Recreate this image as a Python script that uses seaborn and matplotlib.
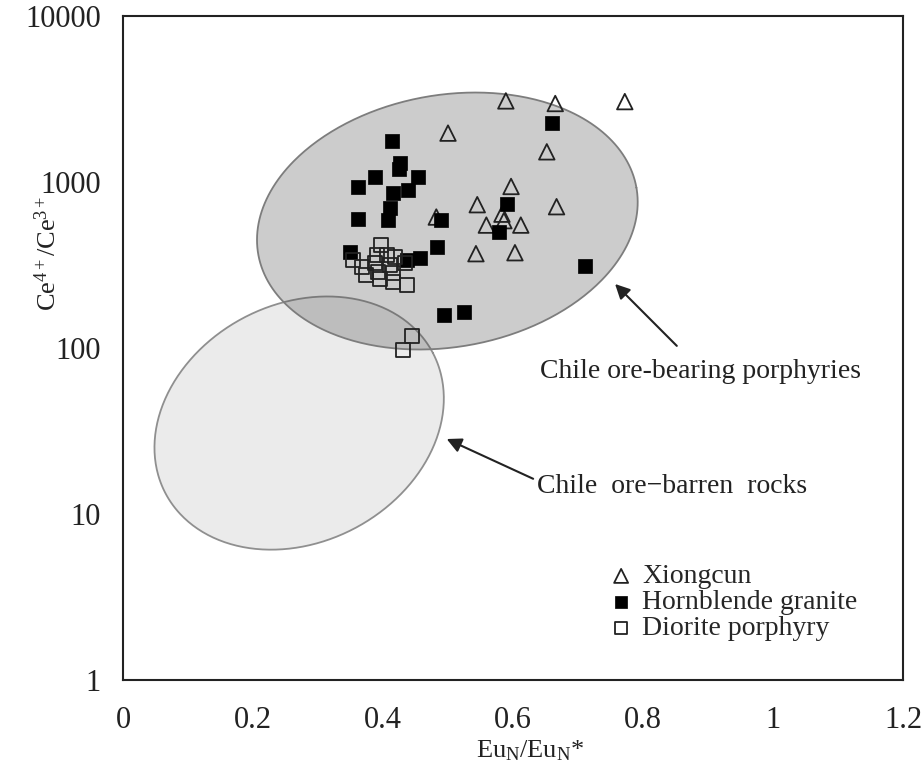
import numpy as np
import pandas as pd
import matplotlib
matplotlib.use("Agg")
import matplotlib.pyplot as plt
import matplotlib.ticker as mticker
import seaborn as sns

# ---------------- data ----------------
xiong_eu = [0.589, 0.665, 0.772, 0.500, 0.652, 0.597, 0.545, 0.667, 0.482, 0.583,
            0.586, 0.559, 0.612, 0.543, 0.603]
xiong_ce = [3080, 2970, 3050, 1970, 1520, 940, 730, 710, 615, 640,
            585, 550, 550, 370, 375]

horn_eu = [0.660, 0.414, 0.426, 0.424, 0.388, 0.454, 0.362, 0.416, 0.439, 0.411,
           0.408, 0.361, 0.490, 0.591, 0.579, 0.483, 0.457, 0.350, 0.437, 0.711,
           0.494, 0.524]
horn_ce = [2277, 1766, 1307, 1193, 1067, 1077, 929, 855, 895, 694,
           590, 596, 590, 737, 498, 408, 347, 380, 339, 312,
           158, 164]

dior_eu = [0.354, 0.368, 0.391, 0.406, 0.419, 0.388, 0.392, 0.411, 0.415, 0.395,
           0.415, 0.437, 0.434, 0.397, 0.445, 0.431, 0.374]
dior_ce = [339, 308, 363, 363, 353, 325, 287, 316, 283, 260,
           250, 240, 325, 417, 118, 97, 275]

series_labels = ["Xiongcun", "Hornblende granite", "Diorite porphyry"]

# field ellipses: centre (Eu, Ce), semi-axes (px), tilt (deg)
field_names = ["Chile ore-bearing porphyries", "Chile  ore\u2212barren  rocks"]
field_center_eu = [0.499, 0.271]
field_center_ce = [582, 35.3]
field_semi_a = [192, 151]
field_semi_b = [126, 119]
field_angle = [10.0, 27.7]

x_ticks = [0, 0.2, 0.4, 0.6, 0.8, 1, 1.2]
x_ticklabels = ["0", "0.2", "0.4", "0.6", "0.8", "1", "1.2"]
y_ticks = [1, 10, 100, 1000, 10000]
y_ticklabels = ["1", "10", "100", "1000", "10000"]

# ---------------- style ----------------
sns.set_theme(style="white")
plt.rcParams["font.family"] = ["Liberation Serif", "DejaVu Serif"]
plt.rcParams["mathtext.fontset"] = "custom"
plt.rcParams["mathtext.rm"] = "Liberation Serif"
plt.rcParams["mathtext.it"] = "Liberation Serif:italic"

W, H = 924, 769
fig = plt.figure(figsize=(W / 100, H / 100), dpi=100)
L, R, T, B = 123, 903, 16, 680
ax = fig.add_axes([L / W, 1 - B / H, (R - L) / W, (B - T) / H])

XMIN, XMAX, YMIN, YMAX = 0, 1.2, 1, 10000
ax.set_xlim(XMIN, XMAX)
ax.set_yscale("log")
ax.set_ylim(YMIN, YMAX)

# ellipses (built in pixel-like space, mapped through axis scales)
px_per_x = (R - L) / (XMAX - XMIN)
px_per_dec = (B - T) / (np.log10(YMAX) - np.log10(YMIN))
face = ["#444444", "#ebebeb"]
alphas = [0.27, 1.0]
edges = ["#7d7d7d", "#8f8f8f"]
zo = [2, 1]
t = np.linspace(0, 2 * np.pi, 400)
for i in range(2):
    th = np.deg2rad(field_angle[i])
    dx = field_semi_a[i] * np.cos(th) * np.cos(t) - field_semi_b[i] * np.sin(th) * np.sin(t)
    dy = field_semi_a[i] * np.sin(th) * np.cos(t) + field_semi_b[i] * np.cos(th) * np.sin(t)
    ex = field_center_eu[i] + dx / px_per_x
    ey = 10 ** (np.log10(field_center_ce[i]) + dy / px_per_dec)
    ax.fill(ex, ey, facecolor=face[i], alpha=alphas[i], edgecolor="none", zorder=zo[i])
    ax.plot(ex, ey, color=edges[i], lw=1.3, zorder=zo[i] + 0.1)

# scatter points
df_x = pd.DataFrame({"eu": xiong_eu, "ce": xiong_ce})
df_h = pd.DataFrame({"eu": horn_eu, "ce": horn_ce})
df_d = pd.DataFrame({"eu": dior_eu, "ce": dior_ce})

sns.scatterplot(data=df_x, x="eu", y="ce", ax=ax, marker="^", s=125,
                facecolor="none", edgecolor="#222222", linewidth=1.3,
                label=series_labels[0], zorder=5)
sns.scatterplot(data=df_h, x="eu", y="ce", ax=ax, marker="s", s=100,
                color="#000000", edgecolor="#000000", linewidth=0.5,
                label=series_labels[1], zorder=6)
sns.scatterplot(data=df_d, x="eu", y="ce", ax=ax, marker="s", s=100,
                facecolor="none", edgecolor="#222222", linewidth=1.3,
                label=series_labels[2], zorder=7)

leg = ax.legend(loc="upper left", bbox_to_anchor=(0.603, 0.196), frameon=False,
                fontsize=20, handletextpad=0.25, labelspacing=0.02,
                borderpad=0.0, markerscale=0.9, handlelength=1.0)

# annotations
ax.annotate("", xy=(0.757, 243), xytext=(0.852, 103),
            arrowprops=dict(arrowstyle="-|>", color="#222222", lw=1.5,
                            mutation_scale=22, shrinkA=0, shrinkB=0), zorder=8)
ax.annotate("", xy=(0.498, 28.3), xytext=(0.631, 16.3),
            arrowprops=dict(arrowstyle="-|>", color="#222222", lw=1.5,
                            mutation_scale=22, shrinkA=0, shrinkB=0), zorder=8)
ax.text(0.6415, 72, field_names[0], fontsize=20, va="center", ha="left", color="#222222")
ax.text(0.637, 14.6, field_names[1], fontsize=20, va="center", ha="left", color="#222222")

# axes styling
ax.set_xticks(x_ticks)
ax.set_xticklabels(x_ticklabels)
ax.xaxis.set_minor_locator(mticker.MultipleLocator(0.1))
ax.set_yticks(y_ticks)
ax.set_yticklabels(y_ticklabels)
ax.yaxis.set_minor_locator(mticker.LogLocator(base=10, subs=np.arange(2, 10)))
ax.yaxis.set_minor_formatter(mticker.NullFormatter())
ax.tick_params(axis="both", which="both", direction="in", color="#222222",
               top=False, right=False, labelsize=22, labelcolor="#222222")
ax.tick_params(axis="x", which="major", length=8, width=1.2, pad=19)
ax.tick_params(axis="x", which="minor", length=8, width=1.2)
ax.tick_params(axis="y", which="major", length=8, width=1.2, pad=16)
ax.tick_params(axis="y", which="minor", length=6, width=1.0)
for sp in ax.spines.values():
    sp.set_color("#222222")
    sp.set_linewidth(1.5)

ax.set_xlabel(r"Eu$_{\mathrm{N}}$/Eu$_{\mathrm{N}}$*", fontsize=19, color="#222222")
ax.set_ylabel(r"Ce$^{4+}$/Ce$^{3+}$", fontsize=19, color="#222222")
ax.xaxis.set_label_coords(0.522, -0.088)
ax.yaxis.set_label_coords(-0.08, 0.643)

fig.savefig("out.png", dpi=100, facecolor="white")
